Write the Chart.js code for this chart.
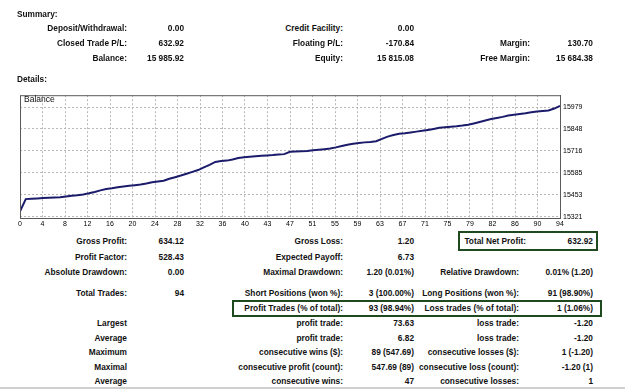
<!DOCTYPE html>
<html>
<head>
<meta charset="utf-8">
<script src="https://cdn.jsdelivr.net/npm/chart.js@4"></script>
<style>
  html, body { margin: 0; padding: 0; background: #fff; }
  #page { position: relative; width: 625px; height: 391px; overflow: hidden; font-family: "Liberation Sans", Arial, sans-serif; font-size: 8.3px; font-weight: bold; color: #111; }
  .t { position: absolute; white-space: nowrap; line-height: 12px; height: 12px; }
  .box { position: absolute; border: 2px solid #1f4a1f; box-sizing: border-box; }
  #cv { position: absolute; left: 0; top: 88px; }
  #bal { position: absolute; left: 24px; top: 94px; font-size: 8.5px; font-weight: normal; }
</style>
</head>
<body>
<div id="page">
  <div class="box" style="left:458px;top:231px;width:140px;height:20px"></div>
  <div class="box" style="left:232px;top:300px;width:370px;height:17px"></div>
  <div style="position:absolute;left:0;top:387px;width:625px;height:2px;background:#cfcfcf"></div>
  <canvas id="cv" width="625" height="146"></canvas>
  <div id="bal">Balance</div>
</div>
<script>
// balance after each trade (0 = start)
var tradeBalance = [
  15353.0, 15426.6, 15428.5, 15430.9, 15432.6, 15434.1, 15435.8, 15437.2, 15442.5, 15446.9,
  15450.3, 15454.8, 15461.2, 15469.5, 15478.9, 15486.8, 15491.5, 15497.3, 15502.9, 15506.4,
  15510.2, 15514.6, 15520.5, 15527.9, 15532.3, 15536.8, 15548.6, 15558.4, 15568.1, 15578.7,
  15590.3, 15601.2, 15616.8, 15632.5, 15649.7, 15655.1, 15657.9, 15664.3, 15673.5, 15678.2,
  15681.0, 15683.9, 15686.4, 15688.7, 15691.0, 15694.2, 15696.8, 15710.5, 15713.1, 15714.6,
  15716.3, 15719.8, 15723.1, 15726.5, 15730.2, 15737.4, 15745.6, 15753.3, 15759.8, 15764.1,
  15767.5, 15770.2, 15774.0, 15788.6, 15802.3, 15811.7, 15818.9, 15822.6, 15827.4, 15832.1,
  15836.8, 15842.3, 15848.5, 15854.9, 15858.6, 15861.2, 15864.0, 15868.3, 15873.6, 15881.5,
  15890.2, 15899.4, 15907.6, 15914.3, 15920.8, 15928.5, 15933.1, 15937.9, 15942.0, 15948.6,
  15953.2, 15956.4, 15959.1, 15970.8, 15985.9
];
var xTickLabels = ['0','4','8','12','16','20','24','28','32','36','40','43','47','51','55','59','63','67','71','75','79','82','86','90','94'];
var yTickValues = [15321, 15453, 15585, 15716, 15848, 15979];

// report texts: [y, rightX, text]
var texts = [
  [28,127,'Deposit/Withdrawal:'],[28,184,'0.00'],[28,343,'Credit Facility:'],[28,414,'0.00'],
  [43,127,'Closed Trade P/L:'],[43,184,'632.92'],[43,343,'Floating P/L:'],[43,414,'-170.84'],[43,530,'Margin:'],[43,593,'130.70'],
  [58,127,'Balance:'],[58,184,'15 985.92'],[58,343,'Equity:'],[58,414,'15 815.08'],[58,530,'Free Margin:'],[58,593,'15 684.38'],
  [241,127,'Gross Profit:'],[241,184,'634.12'],[241,343,'Gross Loss:'],[241,414,'1.20'],[241,526,'Total Net Profit:'],[241,593,'632.92'],
  [256.5,127,'Profit Factor:'],[256.5,184,'528.43'],[256.5,343,'Expected Payoff:'],[256.5,414,'6.73'],
  [271.5,127,'Absolute Drawdown:'],[271.5,184,'0.00'],[271.5,343,'Maximal Drawdown:'],[271.5,414,'1.20 (0.01%)'],[271.5,519,'Relative Drawdown:'],[271.5,593,'0.01% (1.20)'],
  [293,127,'Total Trades:'],[293,184,'94'],[293,343,'Short Positions (won %):'],[293,414,'3 (100.00%)'],[293,519,'Long Positions (won %):'],[293,593,'91 (98.90%)'],
  [308,343,'Profit Trades (% of total):'],[308,414,'93 (98.94%)'],[308,519,'Loss trades (% of total):'],[308,593,'1 (1.06%)'],
  [323,127,'Largest'],[323,343,'profit trade:'],[323,414,'73.63'],[323,519,'loss trade:'],[323,593,'-1.20'],
  [337.5,127,'Average'],[337.5,343,'profit trade:'],[337.5,414,'6.82'],[337.5,519,'loss trade:'],[337.5,593,'-1.20'],
  [352,127,'Maximum'],[352,343,'consecutive wins ($):'],[352,414,'89 (547.69)'],[352,519,'consecutive losses ($):'],[352,593,'1 (-1.20)'],
  [366.5,127,'Maximal'],[366.5,343,'consecutive profit (count):'],[366.5,414,'547.69 (89)'],[366.5,519,'consecutive loss (count):'],[366.5,593,'-1.20 (1)'],
  [381,127,'Average'],[381,343,'consecutive wins:'],[381,414,'47'],[381,519,'consecutive losses:'],[381,593,'1']
];
var page = document.getElementById('page');
function addText(y, x, s, left) {
  var d = document.createElement('div');
  d.className = 't';
  d.textContent = s;
  d.style.top = (y - 6) + 'px';
  if (left) d.style.left = x + 'px'; else d.style.right = (625 - x) + 'px';
  page.appendChild(d);
}
addText(14, 17, 'Summary:', true);
addText(79, 17, 'Details:', true);
texts.forEach(function(r){ addText(r[0], r[1], r[2], false); });

// frame round the plot area
var framePlugin = {
  id: 'frame',
  afterDraw: function(chart){
    var a = chart.chartArea, c = chart.ctx;
    c.save();
    c.strokeStyle = '#5a5a5a';
    c.lineWidth = 1;
    c.strokeRect(a.left + 0.5, a.top + 0.5, a.right - a.left, a.bottom - a.top);
    c.restore();
  }
};

Chart.defaults.font.family = '"Liberation Sans", Arial, sans-serif';
Chart.defaults.font.size = 7;
Chart.defaults.color = '#000';

new Chart(document.getElementById('cv'), {
  type: 'line',
  data: {
    datasets: [{
      label: 'Balance',
      data: tradeBalance.map(function(v, i){ return {x: i, y: v}; }),
      borderColor: '#1b1b6b',
      borderWidth: 2,
      pointRadius: 0,
      tension: 0,
      fill: false
    }]
  },
  options: {
    responsive: false,
    animation: false,
    layout: { padding: { left: 20, top: 4, right: 0, bottom: 0 } },
    plugins: { legend: { display: false }, tooltip: { enabled: false } },
    scales: {
      x: {
        type: 'linear',
        min: 0,
        max: 94,
        afterBuildTicks: function(axis){
          axis.ticks = xTickLabels.map(function(l, k){ return {value: 94 * k / 24}; });
        },
        afterFit: function(axis){ axis.height = 16; },
        ticks: {
          autoSkip: false,
          maxRotation: 0,
          padding: 2,
          callback: function(v, idx){ return xTickLabels[idx]; }
        },
        grid: { color: '#b8b8b8', drawTicks: false },
        border: { color: '#5a5a5a', dash: [2, 2] }
      },
      y: {
        position: 'right',
        min: 15313,
        max: 16051,
        afterBuildTicks: function(axis){
          axis.ticks = yTickValues.map(function(v){ return {value: v}; });
        },
        afterFit: function(axis){ axis.width = 65; },
        ticks: { padding: 3, callback: function(v){ return String(v); } },
        grid: { color: '#b8b8b8', drawTicks: false },
        border: { color: '#5a5a5a', dash: [2, 2] }
      }
    }
  },
  plugins: [framePlugin]
});
</script>
</body>
</html>
